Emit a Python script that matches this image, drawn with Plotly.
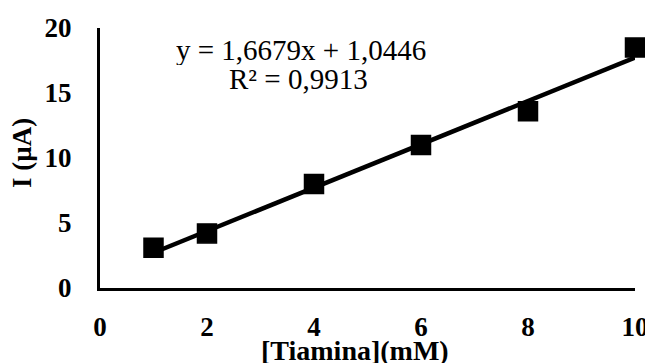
import plotly.graph_objects as go

conc = [1, 2, 4, 6, 8, 10]
current = [3.1, 4.2, 8.0, 11.0, 13.6, 18.5]
slope = 1.6679
intercept = 1.0446
r2_text = "R² = 0,9913"
eq_text = "y = 1,6679x + 1,0446"
x_title = "<b>[Tiamina](mM)</b>"
y_title = "<b>I (µA)</b>"
x_ticks = [0, 2, 4, 6, 8, 10]
y_ticks = [0, 5, 10, 15, 20]

fit_x = [min(conc), max(conc)]
fit_y = [slope * v + intercept for v in fit_x]

FONT = "Liberation Serif, Times New Roman, serif"

fig = go.Figure()
fig.add_trace(go.Scatter(x=fit_x, y=fit_y, mode="lines",
                         line=dict(color="black", width=4.5),
                         showlegend=False, cliponaxis=False))
fig.add_trace(go.Scatter(x=conc, y=current, mode="markers",
                         marker=dict(symbol="square", size=19, color="black",
                                     line=dict(color="black", width=1.5)),
                         showlegend=False, cliponaxis=False))

fig.add_annotation(x=3.76, y=18.27, xref="x", yref="y", text=eq_text,
                   showarrow=False, height=30,
                   font=dict(family=FONT, size=29, color="black"))
fig.add_annotation(x=3.71, y=16.1, xref="x", yref="y", text=r2_text,
                   showarrow=False, height=30,
                   font=dict(family=FONT, size=29, color="black"))

# axis titles
fig.add_annotation(x=0.477, y=-0.238, xref="paper", yref="paper", text=x_title,
                   showarrow=False, xanchor="center", yanchor="middle", height=30,
                   font=dict(family=FONT, size=28, color="black"))
fig.add_annotation(x=-0.146, y=0.519, xref="paper", yref="paper", text=y_title,
                   showarrow=False, textangle=-90, xanchor="center", yanchor="middle",
                   font=dict(family=FONT, size=27, color="black"))

fig.update_layout(
    width=645, height=355,
    margin=dict(l=92, r=18, t=20, b=75),
    paper_bgcolor="white", plot_bgcolor="white",
    font=dict(family=FONT, color="black"),
)
fig.update_xaxes(range=[0, 10], tickvals=x_ticks, showgrid=False, zeroline=False,
                 showline=True, linecolor="black", linewidth=3, automargin=False,
                 ticks="", ticklabelstandoff=13,
                 tickfont=dict(family=FONT, size=27, color="black", weight="bold"))
fig.update_yaxes(range=[0, 20], tickvals=y_ticks, showgrid=False, zeroline=False,
                 showline=True, linecolor="black", linewidth=3, automargin=False,
                 ticks="", ticklabelstandoff=20,
                 tickfont=dict(family=FONT, size=27, color="black", weight="bold"))

fig.write_html("out.html")
